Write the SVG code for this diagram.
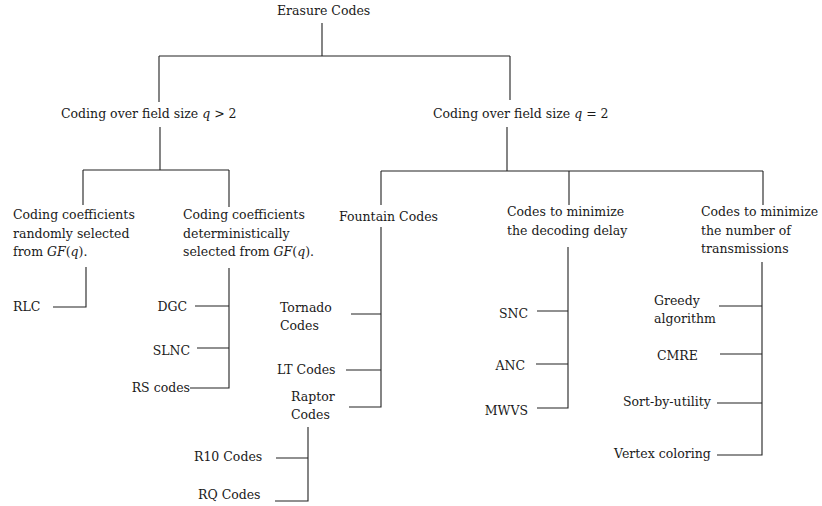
<svg xmlns="http://www.w3.org/2000/svg" width="822" height="506" viewBox="0 0 822 506">
<style>
text{font-family:"DejaVu Serif","Liberation Serif",serif;font-size:12.5px;fill:#1a1a1a}
.e{text-anchor:end}
.i{font-style:italic}
#connectors path{fill:none;stroke:#222;stroke-width:1.1}
</style>
<rect width="822" height="506" fill="#fff"/>
<g id="connectors">
<path d="M322,23V56M159,56H510M159,56V102M510,56V100"/>
<path d="M160,127V170M83,170H229M83,170V205M229,170V207"/>
<path d="M507,127V171M381,171H763M381,171V205M569,171V205M763,171V205"/>
<path d="M86,267V307H53"/>
<path d="M229,268V388H190M195,306H229M197,348H229"/>
<path d="M381,227V407H349M351,314H381M346,370H381"/>
<path d="M308,427V501H275M276,458H308"/>
<path d="M568,247V408H537M537,311H568M536,364H568"/>
<path d="M762,262V455H717M719,306H762M720,354H762M717,403H762"/>
</g>
<g id="root"><text x="277" y="15">Erasure Codes</text></g>
<g id="q_gt2"><text x="61" y="118">Coding over field size <tspan class="i">q</tspan> &gt; 2</text></g>
<g id="q_eq2"><text x="433" y="118">Coding over field size <tspan class="i">q</tspan> = 2</text></g>
<g id="random"><text x="13" y="219">Coding coefficients</text><text x="13" y="237.5">randomly selected</text><text x="13" y="256">from <tspan class="i">GF</tspan>(<tspan class="i">q</tspan>).</text></g>
<g id="determ"><text x="183" y="219">Coding coefficients</text><text x="183" y="237.5">deterministically</text><text x="183" y="256">selected from <tspan class="i">GF</tspan>(<tspan class="i">q</tspan>).</text></g>
<g id="fountain"><text x="339" y="221">Fountain Codes</text></g>
<g id="delay"><text x="507" y="216">Codes to minimize</text><text x="507" y="234.5">the decoding delay</text></g>
<g id="trans"><text x="701" y="216">Codes to minimize</text><text x="701" y="234.5">the number of</text><text x="701" y="253">transmissions</text></g>
<g id="rlc"><text x="13" y="311">RLC</text></g>
<g id="dgc"><text class="e" x="187" y="311">DGC</text></g>
<g id="slnc"><text class="e" x="190" y="355">SLNC</text></g>
<g id="rs"><text class="e" x="190" y="392">RS codes</text></g>
<g id="tornado"><text x="280" y="312">Tornado</text><text x="280" y="329.5">Codes</text></g>
<g id="lt"><text x="277" y="374">LT Codes</text></g>
<g id="raptor"><text x="291" y="401">Raptor</text><text x="291" y="418.5">Codes</text></g>
<g id="r10"><text x="194" y="461">R10 Codes</text></g>
<g id="rq"><text x="198" y="499">RQ Codes</text></g>
<g id="snc"><text class="e" x="528" y="318">SNC</text></g>
<g id="anc"><text class="e" x="525" y="370">ANC</text></g>
<g id="mwvs"><text class="e" x="528" y="415">MWVS</text></g>
<g id="greedy"><text x="654" y="305">Greedy</text><text x="654" y="323">algorithm</text></g>
<g id="cmre"><text x="657" y="360">CMRE</text></g>
<g id="sort"><text x="623" y="406">Sort-by-utility</text></g>
<g id="vertex"><text x="614" y="458">Vertex coloring</text></g>
</svg>
